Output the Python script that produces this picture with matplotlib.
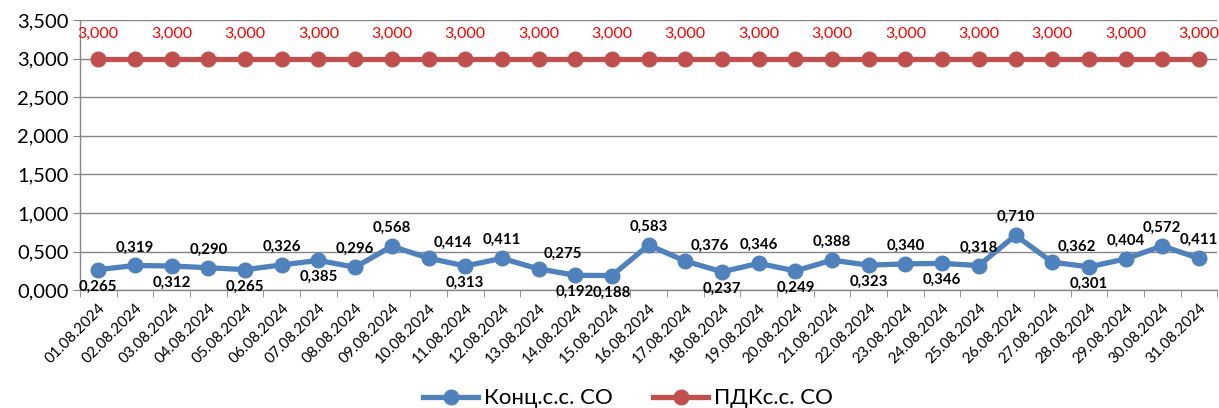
"""
CO concentration vs. limit, August 2024.
"""

import matplotlib
matplotlib.use("Agg")
import matplotlib.pyplot as plt
import numpy as np

dates = [f"{d:02d}.08.2024" for d in range(1, 32)]

conc_co = [0.265, 0.319, 0.312, 0.290, 0.265, 0.326, 0.385, 0.296, 0.568, 0.414,
           0.313, 0.411, 0.275, 0.192, 0.188, 0.583, 0.376, 0.237, 0.346, 0.249,
           0.388, 0.323, 0.340, 0.346, 0.318, 0.710, 0.362, 0.301, 0.404, 0.572,
           0.411]
pdk_co = [3.000] * 31

# label placement per point: "a" above, "b" below, "r" above-right
label_pos = ["b", "a", "b", "a", "b", "a", "b", "a", "a", "r",
             "b", "a", "r", "b", "b", "a", "r", "b", "a", "b",
             "a", "b", "a", "b", "a", "a", "r", "b", "a", "a",
             "a"]

BLUE = "#4F81BD"
RED = "#C0504D"
FONT = ["Lato", "DejaVu Sans"]


def fmt(v):
    return f"{v:.3f}".replace(".", ",")


def main():
    plt.rcParams["font.family"] = FONT

    fig = plt.figure(figsize=(12.19, 4.08), dpi=100)
    ax = fig.add_axes([0.0656, 0.289, 0.933, 0.662])

    x = np.arange(len(dates))

    ax.plot(x, conc_co, color=BLUE, lw=3.8, marker="o", markersize=10.5,
            label="Конц.с.с. CO", zorder=3)
    ax.plot(x, pdk_co, color=RED, lw=3.8, marker="o", markersize=10.5,
            label="ПДКс.с. CO", zorder=3)

    # data labels
    for xi, v, pos in zip(x, conc_co, label_pos):
        if pos == "a":
            ax.annotate(fmt(v), (xi, v), xytext=(0, 8), textcoords="offset points",
                        ha="center", va="bottom", fontsize=10.8, fontweight="bold")
        elif pos == "r":
            ax.annotate(fmt(v), (xi, v), xytext=(4, 6), textcoords="offset points",
                        ha="left", va="bottom", fontsize=10.8, fontweight="bold")
        else:
            ax.annotate(fmt(v), (xi, v), xytext=(0, -7), textcoords="offset points",
                        ha="center", va="top", fontsize=10.8, fontweight="bold")

    # only every other limit label is shown (the rest would overlap)
    for xi, v in zip(x[::2], pdk_co[::2]):
        ax.annotate(fmt(v), (xi, v), xytext=(0, 13), textcoords="offset points",
                    ha="center", va="bottom", fontsize=11.5, color="#FF0000")

    ax.set_xlim(-0.5, len(dates) - 0.5)
    ax.set_ylim(0, 3.5)
    ax.set_yticks(np.arange(0, 3.51, 0.5))
    ax.set_yticklabels([fmt(t) for t in np.arange(0, 3.51, 0.5)], fontsize=14.5)

    ax.set_xticks(x)
    ax.set_xticklabels(dates, rotation=45, ha="right", rotation_mode="anchor",
                       fontsize=11)
    ax.tick_params(axis="x", length=0, pad=8)
    ax.set_xticks(np.arange(-0.5, len(dates), 1), minor=True)
    ax.tick_params(axis="x", which="minor", length=5, color="#868686")
    ax.tick_params(axis="y", length=5, color="#868686", pad=3)

    ax.grid(axis="y", color="#868686", lw=1)
    ax.set_axisbelow(True)
    for side in ["top", "right"]:
        ax.spines[side].set_visible(False)
    for side in ["left", "bottom"]:
        ax.spines[side].set_color("#868686")
        ax.spines[side].set_linewidth(1)

    fig.legend(loc="lower center", bbox_to_anchor=(0.515, -0.05), ncol=2,
               frameon=False, fontsize=16, handlelength=2.5, columnspacing=1.8,
               handletextpad=0.25)

    fig.savefig("out.png", dpi=100)


if __name__ == "__main__":
    main()
